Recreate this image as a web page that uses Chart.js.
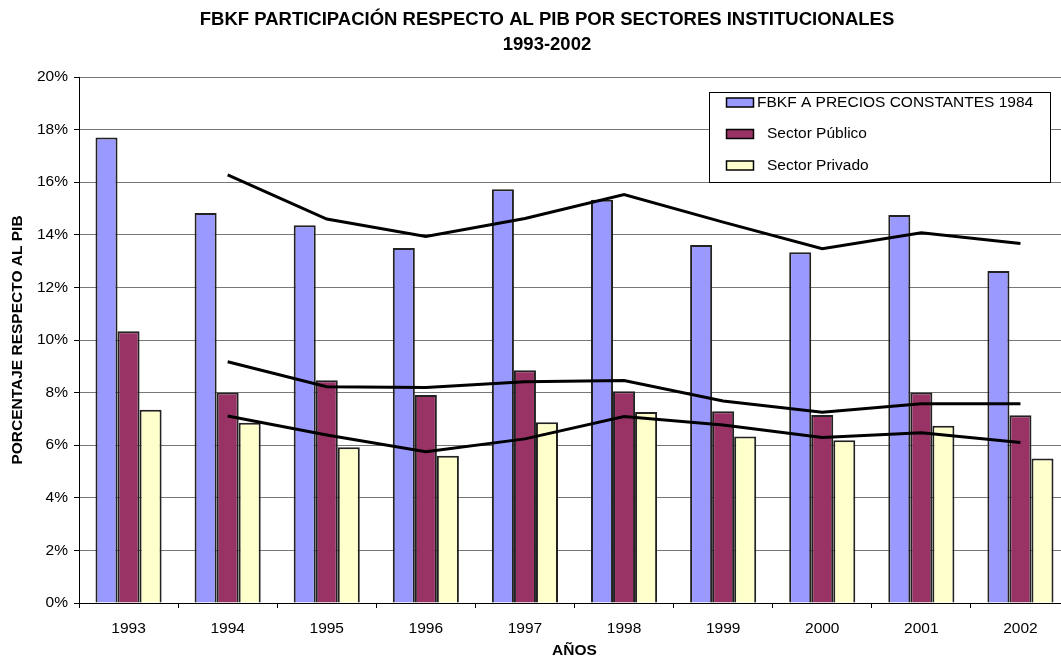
<!DOCTYPE html>
<html>
<head>
<meta charset="utf-8">
<script src="https://cdn.jsdelivr.net/npm/chart.js@4.4.1/dist/chart.umd.min.js"></script>
<style>
  html, body { margin: 0; padding: 0; background: #fff; overflow: hidden; }
  #wrap { width: 1061px; height: 657px; overflow: hidden; position: relative; }
  #box { width: 1070px; height: 657px; }
</style>
</head>
<body>
<div id="wrap"><div id="box"><canvas id="myChart"></canvas></div></div>
<script>
// Years and series (percent of GDP)
const years = ['1993', '1994', '1995', '1996', '1997', '1998', '1999', '2000', '2001', '2002'];
const fbkf = [17.7, 14.83, 14.36, 13.5, 15.73, 15.33, 13.61, 13.34, 14.75, 12.62];
const publico = [10.33, 8.0, 8.47, 7.91, 8.85, 8.05, 7.29, 7.15, 8.0, 7.14];
const privado = [7.35, 6.85, 5.92, 5.6, 6.87, 7.26, 6.33, 6.19, 6.74, 5.49];

// Trend lines (start in 1994)
const trendFbkf = [null, 16.28, 14.6, 13.94, 14.62, 15.53, 14.48, 13.47, 14.08, 13.67];
const trendPublico = [null, 9.17, 8.22, 8.19, 8.41, 8.46, 7.68, 7.25, 7.58, 7.58];
const trendPrivado = [null, 7.11, 6.39, 5.75, 6.24, 7.09, 6.77, 6.29, 6.47, 6.10];

const yTicks = [0, 2, 4, 6, 8, 10, 12, 14, 16, 18, 20];

const FONT = "'Liberation Sans', Arial, sans-serif";
Chart.defaults.font.family = FONT;
Chart.defaults.color = '#000';

function trend(values) {
    return {
        type: 'line',
        data: values,
        borderColor: '#000',
        borderWidth: 3,
        pointRadius: 0,
        tension: 0,
        fill: false,
        order: 0
    };
}

function bars(label, values, color) {
    return {
        type: 'bar',
        label: label,
        data: values,
        backgroundColor: color,
        borderColor: '#222',
        borderWidth: 2,
        categoryPercentage: 0.667,
        barPercentage: 1.0,
        order: 1
    };
}

// Legend box drawn inside the plot, like the original
const boxLegend = {
    id: 'boxLegend',
    afterDraw(chart) {
        const ctx = chart.ctx;
        const items = chart.data.datasets.filter(d => d.label);
        ctx.save();
        ctx.fillStyle = '#fff';
        ctx.fillRect(709, 92, 341, 90);
        ctx.strokeStyle = '#000';
        ctx.lineWidth = 1;
        ctx.strokeRect(709.5, 92.5, 341, 90);
        ctx.font = '15.5px ' + FONT;
        ctx.textBaseline = 'middle';
        const rowY = [102.5, 134, 165.5];
        const textX = [757, 767, 767];
        items.forEach((d, i) => {
            ctx.fillStyle = d.backgroundColor;
            ctx.fillRect(726, rowY[i] - 4.5, 27, 9);
            ctx.strokeStyle = '#000';
            ctx.lineWidth = 1.5;
            ctx.strokeRect(726.5, rowY[i] - 4.5, 27, 9);
            ctx.fillStyle = '#000';
            ctx.fillText(d.label, textX[i], rowY[i]);
        });
        ctx.restore();
    }
};

const ctx = document.getElementById('myChart').getContext('2d');

const fbkfChart = new Chart(ctx, {
    data: {
        labels: years,
        datasets: [
            trend(trendFbkf),
            trend(trendPublico),
            trend(trendPrivado),
            bars('FBKF A PRECIOS CONSTANTES 1984', fbkf, '#9999ff'),
            bars('Sector Público', publico, '#993366'),
            bars('Sector Privado', privado, '#ffffcc')
        ]
    },
    options: {
        responsive: true,
        maintainAspectRatio: false,
        animation: false,
        layout: { padding: { left: 24, right: 0, top: 0, bottom: 0 } },
        plugins: {
            legend: { display: false },
            tooltip: { enabled: false },
            title: {
                display: true,
                text: ['FBKF PARTICIPACIÓN RESPECTO AL PIB POR SECTORES INSTITUCIONALES', '1993-2002'],
                font: { size: 18.5, weight: 'bold', lineHeight: 25 / 18.5 },
                padding: { top: 7.5, bottom: 19.5 }
            }
        },
        scales: {
            x: {
                grid: {
                    display: true,
                    drawOnChartArea: false,
                    offset: true,
                    tickLength: 5,
                    tickColor: '#000'
                },
                border: { color: '#000' },
                ticks: { font: { size: 15.5 }, padding: 11, maxRotation: 0 },
                title: {
                    display: true,
                    text: 'AÑOS',
                    font: { size: 15.5, weight: 'bold' },
                    padding: { top: 0, bottom: -3 }
                },
                afterFit(scale) { scale.height = 54; }
            },
            y: {
                min: 0,
                max: 20,
                afterBuildTicks(scale) {
                    scale.ticks = yTicks.map(v => ({ value: v }));
                },
                grid: {
                    color: '#777',
                    tickLength: 5,
                    tickColor: '#000'
                },
                border: { color: '#000' },
                ticks: {
                    font: { size: 15.5 },
                    padding: 6,
                    callback: v => v + '%'
                },
                title: {
                    display: true,
                    text: 'PORCENTAJE RESPECTO AL PIB',
                    font: { size: 15.5, weight: 'bold' },
                    padding: { top: -15.3, bottom: 0 }
                },
                afterFit(scale) { scale.width = 55; }
            }
        }
    },
    plugins: [boxLegend]
});
</script>
</body>
</html>
